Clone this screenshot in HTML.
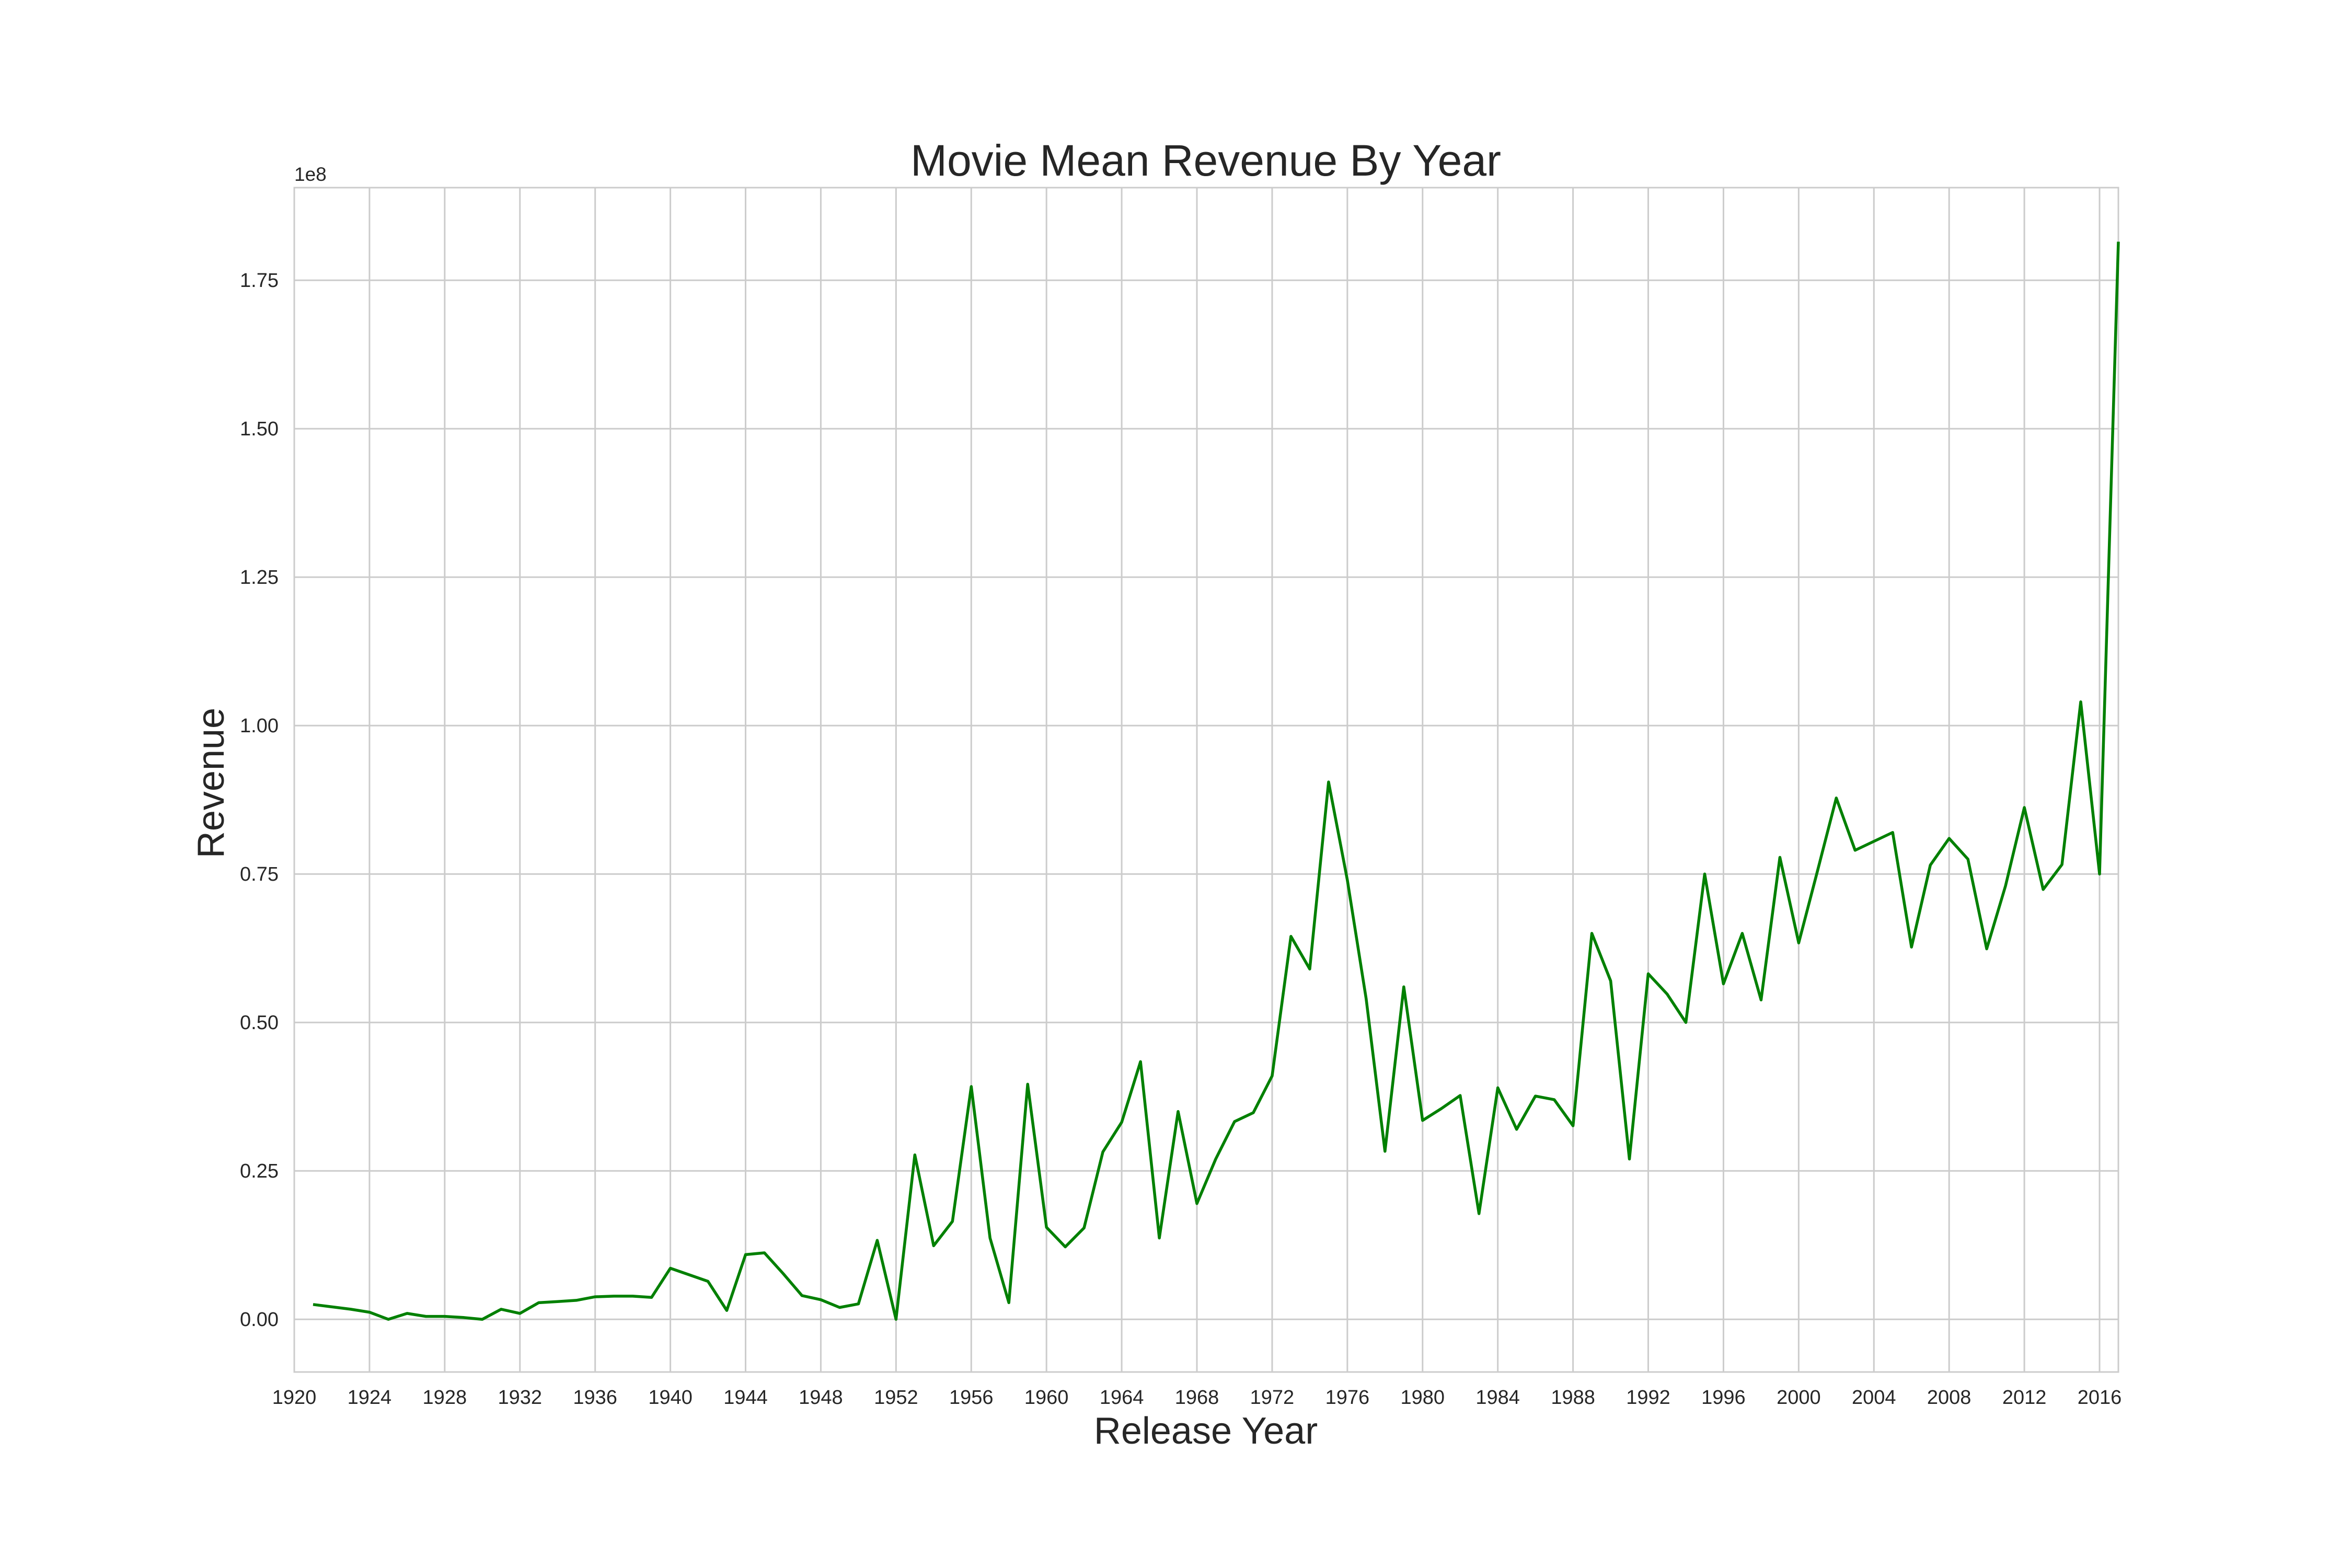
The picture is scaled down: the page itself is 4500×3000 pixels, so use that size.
<!DOCTYPE html>
<html><head><meta charset="utf-8"><style>
html,body{margin:0;padding:0;background:#fff;}
svg{display:block;font-family:"Liberation Sans",Arial,sans-serif;}
</style></head><body>
<svg id="chart" width="4500" height="3000" viewBox="0 0 4500 3000">
<rect width="4500" height="3000" fill="#fff"/>
<g id="grid"></g>
<g id="ticks"></g>
<g id="series"></g>
<text x="2307" y="336" font-size="84" fill="#262626" text-anchor="middle">Movie Mean Revenue By Year</text>
<text x="2307" y="2762" font-size="72" fill="#262626" text-anchor="middle">Release Year</text>
<text transform="translate(428,1498) rotate(-90)" font-size="72" fill="#262626" text-anchor="middle">Revenue</text>
<text x="563" y="346" font-size="37" fill="#262626">1e8</text>
</svg>
<script>
const years = [1921,1922,1923,1924,1925,1926,1927,1928,1929,1930,1931,1932,1933,1934,1935,1936,1937,1938,1939,1940,1941,1942,1943,1944,1945,1946,1947,1948,1949,1950,1951,1952,1953,1954,1955,1956,1957,1958,1959,1960,1961,1962,1963,1964,1965,1966,1967,1968,1969,1970,1971,1972,1973,1974,1975,1976,1977,1978,1979,1980,1981,1982,1983,1984,1985,1986,1987,1988,1989,1990,1991,1992,1993,1994,1995,1996,1997,1998,1999,2000,2001,2002,2003,2004,2005,2006,2007,2008,2009,2010,2011,2012,2013,2014,2015,2016,2017];
const revenue = [0.025,0.021,0.017,0.012,0.0,0.01,0.005,0.005,0.003,0.0,0.017,0.01,0.028,0.03,0.032,0.038,0.039,0.039,0.037,0.086,0.075,0.064,0.015,0.109,0.112,0.077,0.04,0.033,0.02,0.026,0.133,0.0,0.277,0.124,0.165,0.392,0.137,0.028,0.396,0.155,0.122,0.154,0.282,0.332,0.434,0.137,0.35,0.195,0.27,0.333,0.348,0.41,0.645,0.59,0.905,0.74,0.54,0.283,0.56,0.335,0.355,0.377,0.178,0.39,0.32,0.376,0.37,0.326,0.65,0.57,0.27,0.582,0.548,0.5,0.75,0.565,0.65,0.538,0.778,0.634,0.755,0.878,0.79,0.805,0.82,0.627,0.765,0.81,0.775,0.624,0.73,0.862,0.724,0.766,1.04,0.75,1.815];
const xTicks = [1920,1924,1928,1932,1936,1940,1944,1948,1952,1956,1960,1964,1968,1972,1976,1980,1984,1988,1992,1996,2000,2004,2008,2012,2016];
const yTicks = [0,0.25,0.5,0.75,1.0,1.25,1.5,1.75];
const L=563,R=4053,T=359,B=2625;
const xMin=1920,xMax=2017,yMin=-0.0887,yMax=1.906;
function xs(v){return L+(v-xMin)/(xMax-xMin)*(R-L);}
function ys(v){return B-(v-yMin)/(yMax-yMin)*(B-T);}
const NS="http://www.w3.org/2000/svg";
function mk(tag,attrs,parent){const e=document.createElementNS(NS,tag);for(const k in attrs)e.setAttribute(k,attrs[k]);parent.appendChild(e);return e;}
const grid=document.getElementById('grid'),ticks=document.getElementById('ticks'),series=document.getElementById('series');
xTicks.forEach(t=>{
  const x=xs(t);
  const l=mk('line',{x1:x,x2:x,y1:T,y2:B,stroke:'#cccccc','stroke-width':3},grid);
  
  
  const tx=mk('text',{x:x,y:2686,'font-size':38,fill:'#262626','text-anchor':'middle'},ticks);
  tx.textContent=t;
  
  
});
yTicks.forEach(t=>{
  const y=ys(t);
  const l=mk('line',{x1:L,x2:R,y1:y,y2:y,stroke:'#cccccc','stroke-width':3},grid);
  
  
  const tx=mk('text',{x:533,y:y+13,'font-size':38,fill:'#262626','text-anchor':'end'},ticks);
  tx.textContent=t.toFixed(2);
  
  
});
const frame=mk('rect',{x:L,y:T,width:R-L,height:B-T,fill:'none',stroke:'#cccccc','stroke-width':3},grid);


const pts=years.map((yr,i)=>xs(yr).toFixed(1)+','+ys(revenue[i]).toFixed(1)).join(' ');
const line=mk('polyline',{points:pts,fill:'none',stroke:'#008000','stroke-width':5.5,'stroke-linejoin':'round'},series);


</script>
</body></html>
